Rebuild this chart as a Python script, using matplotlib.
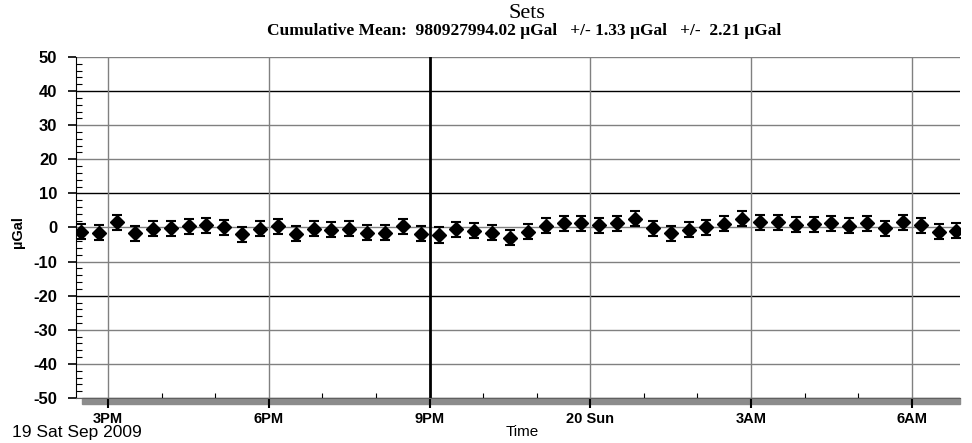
import matplotlib
matplotlib.use('Agg')
import matplotlib.pyplot as plt
import matplotlib.dates as mdates
from matplotlib.patches import Rectangle
import datetime as dt

plt.rcParams['font.family'] = ['Liberation Sans', 'DejaVu Sans']
plt.rcParams['axes.unicode_minus'] = False

# ---- data ----
day1_times = ["14:30", "14:50", "15:10", "15:30", "15:50", "16:10", "16:30", "16:50",
              "17:10", "17:30", "17:50", "18:10", "18:30", "18:50", "19:10", "19:30",
              "19:50", "20:10", "20:30", "20:50", "21:10", "21:30", "21:50", "22:10",
              "22:30", "22:50", "23:10", "23:30", "23:50"]
day2_times = ["00:10", "00:30", "00:50", "01:10", "01:30", "01:50", "02:10", "02:30",
              "02:50", "03:10", "03:30", "03:50", "04:10", "04:30", "04:50", "05:10",
              "05:30", "05:50", "06:10", "06:30", "06:50"]
set_values = [-1.2, -1.5, 1.5, -1.7, -0.4, -0.2, 0.3, 0.6, 0.0, -2.0,
              -0.4, 0.3, -1.9, -0.4, -0.7, -0.4, -1.5, -1.5, 0.3, -1.9,
              -2.2, -0.5, -0.9, -1.5, -3.0, -1.2, 0.5, 1.3, 1.3, 0.6,
              1.3, 2.6, -0.2, -1.7, -0.7, 0.1, 1.1, 2.6, 1.5, 1.6,
              0.8, 1.0, 1.3, 0.5, 1.3, -0.2, 1.5, 0.6, -1.2, -0.9]
set_errors = [2.2] * 50
y_ticks = [50, 40, 30, 20, 10, 0, -10, -20, -30, -40, -50]
x_tick_times = ["2009-09-19 15:00", "2009-09-19 18:00", "2009-09-19 21:00",
                "2009-09-20 00:00", "2009-09-20 03:00", "2009-09-20 06:00"]
x_tick_labels = ["3PM", "6PM", "9PM", "20 Sun", "3AM", "6AM"]
title = "Sets"
subtitle = "Cumulative Mean:  980927994.02 \u03bcGal   +/- 1.33 \u03bcGal   +/-  2.21 \u03bcGal"

times = ([dt.datetime.strptime("2009-09-19 " + t, "%Y-%m-%d %H:%M") for t in day1_times] +
         [dt.datetime.strptime("2009-09-20 " + t, "%Y-%m-%d %H:%M") for t in day2_times])
xticks = [dt.datetime.strptime(t, "%Y-%m-%d %H:%M") for t in x_tick_times]

W, H = 972, 443
fig = plt.figure(figsize=(W / 100, H / 100), dpi=100)
L, R, T, B = 76, 960, 57, 398
ax = fig.add_axes([L / W, 1 - B / H, (R - L) / W, (B - T) / H])

ax.set_xlim(dt.datetime(2009, 9, 19, 14, 24), dt.datetime(2009, 9, 20, 6, 54))
ax.set_ylim(-50, 50)

# grid lines
for v in y_ticks:
    c = 'black' if v in (40, 10, -20) else '#808080'
    ax.axhline(v, color=c, lw=1, zorder=1)
for t, lab in zip(xticks, x_tick_labels):
    if lab == "9PM":
        ax.axvline(t, color='black', lw=2, zorder=1)
    else:
        ax.axvline(t, color='#808080', lw=1, zorder=1)

ax.errorbar(times, set_values, yerr=set_errors, fmt='D', color='black',
            ms=6.8, capsize=3.6, elinewidth=1, capthick=1.5, zorder=3)

# axes styling
for s in ('top', 'right'):
    ax.spines[s].set_visible(False)
ax.spines['left'].set_color('black')
ax.spines['bottom'].set_color('#606060')

ax.set_yticks(y_ticks)
ax.set_yticklabels([str(v) for v in y_ticks], fontweight='bold', fontsize=12)
ax.yaxis.set_minor_locator(matplotlib.ticker.MultipleLocator(2))
ax.tick_params(axis='y', which='major', direction='out', length=5.5, width=1.2, pad=8)
ax.tick_params(axis='y', which='minor', direction='in', length=4.5, width=0.8)

ax.set_xticks(xticks)
ax.set_xticklabels(x_tick_labels, fontsize=10.5, fontweight='bold')
ax.xaxis.set_minor_locator(mdates.HourLocator())
ax.tick_params(axis='x', which='major', direction='out', length=7, width=1.5, pad=3)
ax.tick_params(axis='x', which='minor', direction='in', length=3.5, width=0.8)

# shadow band under the plot floor
band_h = 6 / (B - T)
ax.add_patch(Rectangle((6 / (R - L), -band_h), 1 - 6 / (R - L), band_h,
                       transform=ax.transAxes, color='#8c8c8c', clip_on=False, zorder=0))

# texts
fig.text(527 / W, 1 - 13 / H, title, family='Liberation Serif', fontsize=16,
         ha='center', va='center')
fig.text(524 / W, 1 - 31 / H, subtitle, family='Liberation Serif', fontweight='bold',
         fontsize=12.5, ha='center', va='center')
fig.text(18 / W, 1 - 232 / H, "\u00b5Gal", rotation=90, fontweight='bold', fontsize=10.5,
         ha='center', va='center')
fig.text(77 / W, 1 - 432 / H, "19 Sat Sep 2009", fontsize=12.5, ha='center', va='center')
fig.text(522 / W, 1 - 432 / H, "Time", fontsize=11, ha='center', va='center')

fig.savefig('out.png', dpi=100)
